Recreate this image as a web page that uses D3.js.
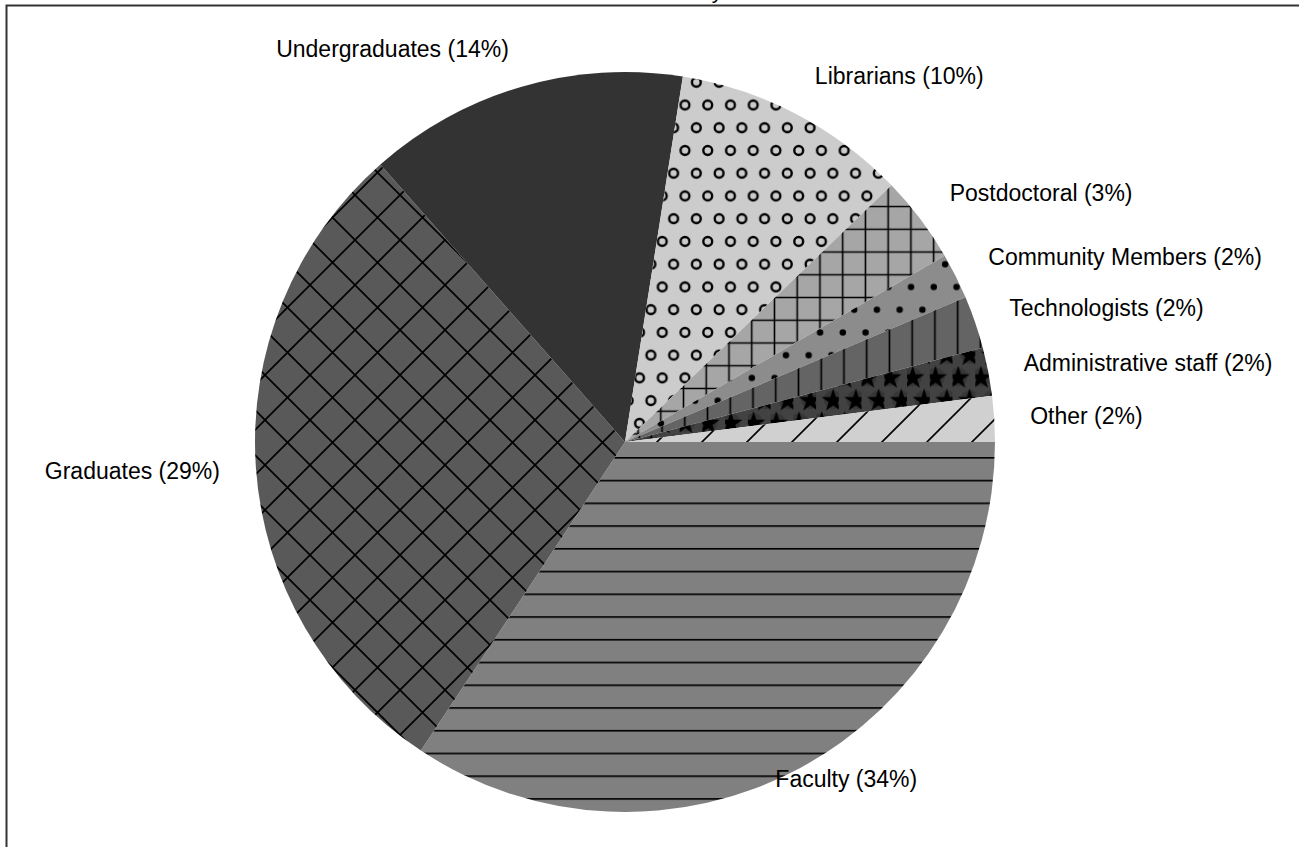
<!DOCTYPE html>
<html>
<head>
<meta charset="utf-8">
<script src="https://cdn.jsdelivr.net/npm/d3@7"></script>
<style>
  html, body { margin: 0; padding: 0; background: #fff; }
  svg { display: block; }
  text { font-family: "Liberation Sans", Arial, sans-serif; fill: #000; }
</style>
</head>
<body>
<svg id="chart" width="1299" height="847"></svg>
<script>
// Respondent groups, in drawing order (clockwise from 3 o'clock)
const categories = [
  "Faculty", "Graduates", "Undergraduates", "Librarians", "Postdoctoral",
  "Community Members", "Technologists", "Administrative staff", "Other"
];
// Share of respondents, in percent
const shares = [34.3, 29.2, 14.0, 10.3, 3.8, 2.0, 2.3, 2.1, 2.0];
const titleText = "Attendance by Role";

// Fill pattern for each group
const patternIds = ["hlines", "crosshatch", "solid", "rings", "grid", "dots", "vlines", "stars", "diag"];
// Hand-tuned nudges for labels that sit away from the default spot
const labelNudge = { "Faculty": [-44, -27], "Undergraduates": [0, 4] };

const W = 1299, H = 847;
const cx = 625, cy = 442, radius = 370;
const svg = d3.select("#chart");
const defs = svg.append("defs");
const step = 22.74;
const ink = "#000";

function pattern(id, w, h, x, y, fill) {
  const p = defs.append("pattern").attr("id", id)
    .attr("patternUnits", "userSpaceOnUse")
    .attr("width", w).attr("height", h).attr("x", x).attr("y", y);
  p.append("rect").attr("width", w).attr("height", h).attr("fill", fill);
  return p;
}

// Faculty: horizontal rules
pattern("hlines", step, step, 0, 457 - step * 20, "#808080")
  .append("line").attr("x1", -1).attr("x2", step + 1).attr("y1", 0.8).attr("y2", 0.8)
  .attr("stroke", ink).attr("stroke-width", 1.7);

// Graduates: diagonal crosshatch
{
  const s = 45;
  pattern("crosshatch", s, s, 40, 15, "#595959")
    .append("path")
    .attr("d", `M-5,-5L${s + 5},${s + 5}M${s + 5},-5L-5,${s + 5}`)
    .attr("stroke", ink).attr("stroke-width", 1.7).attr("fill", "none");
}

// Undergraduates: solid fill
pattern("solid", 10, 10, 0, 0, "#333333");

// Librarians: staggered open rings
{
  const p = pattern("rings", step, step * 2, 685 - step / 4, 105 - step / 2, "#cccccc");
  [[step / 4, step / 2], [step * 3 / 4, step * 1.5]].forEach(([x, y]) =>
    p.append("circle").attr("cx", x).attr("cy", y).attr("r", 4.4)
      .attr("fill", "none").attr("stroke", ink).attr("stroke-width", 2.4));
}

// Postdoctoral: square grid
pattern("grid", step, step, 842.7 - step / 2, 229.3 - step / 2, "#a6a6a6")
  .append("path")
  .attr("d", `M${step / 2},-1V${step + 1}M-1,${step / 2}H${step + 1}`)
  .attr("stroke", ink).attr("stroke-width", 1.6);

// Community Members: staggered dots
{
  const p = pattern("dots", step, step * 2, 888.3 - step / 4, 287 - step / 2, "#8c8c8c");
  [[step / 4, step / 2], [step * 3 / 4, step * 1.5]].forEach(([x, y]) =>
    p.append("circle").attr("cx", x).attr("cy", y).attr("r", 3.2).attr("fill", ink));
}

// Technologists: vertical rules
pattern("vlines", step, step, 866.7 - step / 2, 0, "#646464")
  .append("line").attr("x1", step / 2).attr("x2", step / 2).attr("y1", -1).attr("y2", step + 1)
  .attr("stroke", ink).attr("stroke-width", 1.7);

// Administrative staff: staggered stars on faint discs
{
  const p = pattern("stars", step, step * 2, 890 - step / 4, 377 - step / 2, "#424242");
  const star = d3.symbol().type(d3.symbolStar).size(170)();
  [[step / 4, step / 2], [step * 3 / 4, step * 1.5]].forEach(([x, y]) => {
    p.append("circle").attr("cx", x).attr("cy", y).attr("r", 9.5).attr("fill", "#363636");
    p.append("path").attr("d", star).attr("transform", `translate(${x},${y + 1})`).attr("fill", ink);
  });
}

// Other: forward diagonals
{
  const s = 45;
  pattern("diag", s, s, 19, 0, "#d0d0d0")
    .append("path")
    .attr("d", `M-5,${s + 5}L${s + 5},-5M-5,5L5,-5M${s - 5},${s + 5}L${s + 5},${s - 5}`)
    .attr("stroke", ink).attr("stroke-width", 1.6).attr("fill", "none");
}

// Frame
svg.append("rect")
  .attr("x", 6.5).attr("y", 5.5).attr("width", W + 20).attr("height", H + 20)
  .attr("fill", "none").attr("stroke", "#333").attr("stroke-width", 2);

// Title, above the frame
svg.append("text")
  .attr("x", 678).attr("y", -2)
  .attr("text-anchor", "middle")
  .style("font-size", "22px")
  .text(titleText);

const data = categories.map((name, i) => ({ name, value: shares[i], pat: patternIds[i] }));
const total = d3.sum(data, d => d.value);

const pie = d3.pie().value(d => d.value).sort(null)
  .startAngle(Math.PI / 2).endAngle(Math.PI / 2 + 2 * Math.PI);
const arcs = pie(data);

// Slices drawn in page space so the fill patterns use page coordinates
svg.append("g").attr("class", "slices")
  .selectAll("path").data(arcs).join("path")
  .attr("d", d => {
    const path = d3.path();
    const a0 = d.startAngle - Math.PI / 2, a1 = d.endAngle - Math.PI / 2;
    path.moveTo(cx, cy);
    path.lineTo(cx + radius * Math.cos(a0), cy + radius * Math.sin(a0));
    path.arc(cx, cy, radius, a0, a1, false);
    path.closePath();
    return path.toString();
  })
  .attr("fill", d => `url(#${d.data.pat})`);

// Labels outside the pie
const labelR = 402;
const labels = svg.append("g").style("font-size", "23px");
arcs.forEach(d => {
  const mid = (d.startAngle + d.endAngle) / 2;
  const s = Math.sin(mid), c = Math.cos(mid);
  const px = cx + labelR * s, py = cy - labelR * c;
  const pct = Math.floor(d.data.value / total * 100 + 1e-9);
  const anchor = s > 0.05 ? "start" : (s < -0.05 ? "end" : "middle");
  const nudge = labelNudge[d.data.name] || [0, 0];
  labels.append("text")
    .attr("x", px + (s > 0.05 ? 4 : s < -0.05 ? -4 : 0) + nudge[0])
    .attr("y", py - c * 11 + nudge[1])
    .attr("dy", "0.35em")
    .attr("text-anchor", anchor)
    .text(`${d.data.name} (${pct}%)`);
});
</script>
</body>
</html>
